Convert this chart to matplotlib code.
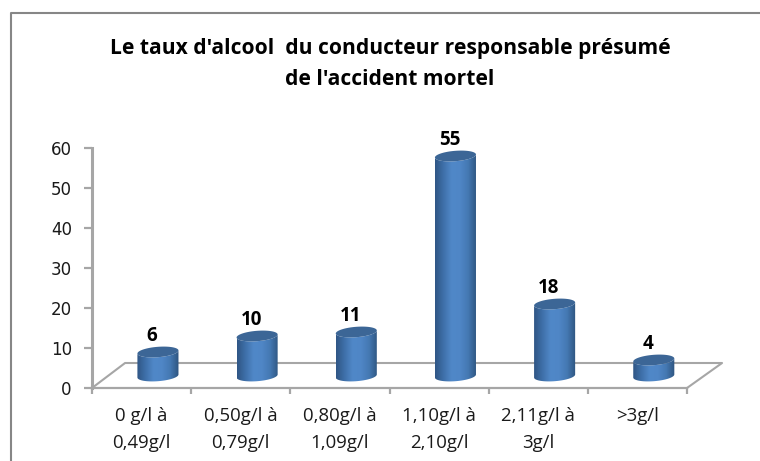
import numpy as np
import matplotlib
matplotlib.use('Agg')
import matplotlib.pyplot as plt
from matplotlib.colors import LinearSegmentedColormap
from matplotlib.patches import PathPatch
from matplotlib.path import Path

# data
categories = ['0 g/l à\n0,49g/l', '0,50g/l à\n0,79g/l', '0,80g/l à\n1,09g/l',
              '1,10g/l à\n2,10g/l', '2,11g/l à\n3g/l', '>3g/l']
values = [6, 10, 11, 55, 18, 4]
yticks = [0, 10, 20, 30, 40, 50, 60]
title = "Le taux d'alcool  du conducteur responsable présumé\nde l'accident mortel"

W, H = 760, 461
GRAY = '#a6a6a6'


def front_edge(cx, cy, a, b, k):
    # lower half of a slightly tilted ellipse, left to right
    t = np.linspace(np.pi, 2 * np.pi, 40)
    return cx + a * np.cos(t), cy + b * np.sin(t) + k * np.cos(t)


def ellipse(cx, cy, a, b, k):
    t = np.linspace(0, 2 * np.pi, 80)
    return cx + a * np.cos(t), cy + b * np.sin(t) + k * np.cos(t)


def cylinder(ax, x, v, cmap):
    # the floor is drawn in perspective, so the bar stands back from the axis
    cx = x + 0.165
    base = 3.0
    a, b, k = 0.207, 1.3, 0.38
    xb, yb = front_edge(cx, base, a, b, k)
    xt, yt = front_edge(cx, base + v, a, b, k)
    px = np.concatenate([xb, xt[::-1], [xb[0]]])
    py = np.concatenate([yb, yt[::-1], [yb[0]]])
    codes = [Path.MOVETO] + [Path.LINETO] * (len(px) - 2) + [Path.CLOSEPOLY]
    path = Path(np.column_stack([px, py]), codes)
    patch = PathPatch(path, fc='none', ec='none', zorder=3)
    ax.add_patch(patch)
    grad = np.linspace(0, 1, 64).reshape(1, -1)
    im = ax.imshow(grad, cmap=cmap, aspect='auto', zorder=3,
                   extent=(cx - a, cx + a, base - 2, base + v + 2))
    im.set_clip_path(patch)
    xe, ye = ellipse(cx, base + v, a, b, k)
    ax.fill(xe, ye, color='#3c6696', lw=0, zorder=4)
    ax.text(cx - 0.06, base + v + 1.4, str(v), ha='center', va='bottom',
            fontsize=13.5, fontweight='bold', family='Open Sans', zorder=5)


def main():
    fig = plt.figure(figsize=(W / 100, H / 100), dpi=100)
    ax = fig.add_axes([92 / W, 1 - 388 / H, (687 - 92) / W, (388 - 148) / H])
    ax.set_xlim(0, 6)
    ax.set_ylim(0, 60)
    ax.patch.set_alpha(0)
    for s in ['top', 'right']:
        ax.spines[s].set_visible(False)
    ax.spines['left'].set_color(GRAY)
    ax.spines['left'].set_linewidth(2.2)
    ax.spines['bottom'].set_color(GRAY)
    ax.spines['bottom'].set_linewidth(1.6)

    # floor of the 3d box
    dy = 25 / 4.0
    ax.plot([0, 33 / 99, 6 + 35 / 99, 6], [0, dy, dy, 0], color=GRAY, lw=1.5,
            clip_on=False, zorder=1)

    cmap = LinearSegmentedColormap.from_list(
        'cyl', ['#2f5685', '#3f70aa', '#5088c8', '#4f86c6', '#4478b2', '#2e5580'])
    for i, v in enumerate(values):
        cylinder(ax, i + 0.5, v, cmap)
    ax.set_xlim(0, 6)
    ax.set_ylim(0, 60)

    ax.set_yticks(yticks)
    ax.set_xticks(range(7))
    ax.set_xticklabels([])
    ax.tick_params(axis='y', length=6, width=1.6, color=GRAY, pad=8.5,
                   labelcolor='#1a1a1a')
    ax.tick_params(axis='x', length=4, width=1.6, color=GRAY)
    for lab in ax.get_yticklabels():
        lab.set_family('DejaVu Sans')
        lab.set_fontsize(12)
    for i, c in enumerate(categories):
        ax.text(i + 0.5, -4.7, c, ha='center', va='top', fontsize=13.4,
                family='Open Sans', color='#1a1a1a', linespacing=1.65)

    fig.text(390 / W, 1 - 64 / H, title, ha='center', va='center', fontsize=15.1,
             fontweight='bold', family='Open Sans', linespacing=1.65)

    # chart frame, open on the right and at the bottom of the crop
    fig.add_artist(plt.Line2D([11 / W, 11 / W, 1], [0, 1 - 13 / H, 1 - 13 / H],
                              color='#868686', lw=1.5))
    fig.savefig('out.png', dpi=100)


if __name__ == '__main__':
    main()
